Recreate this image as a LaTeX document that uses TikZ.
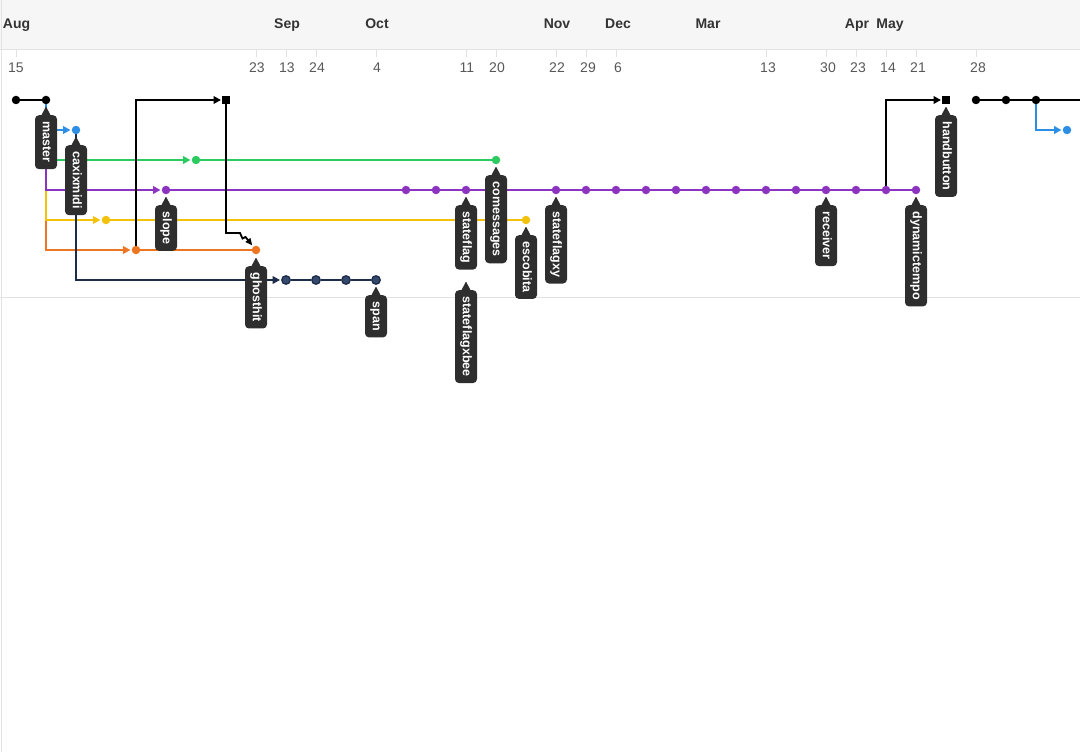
\documentclass[tikz,border=0pt]{standalone}
\usepackage{fontspec}
\setmainfont{Liberation Sans}
\usetikzlibrary{arrows.meta}
\definecolor{cblue}{HTML}{2D8FE3}
\definecolor{cgreen}{HTML}{2BCB62}
\definecolor{cpurple}{HTML}{8C33C0}
\definecolor{cyellow}{HTML}{F2C20C}
\definecolor{corange}{HTML}{EE7623}
\definecolor{cnavy}{HTML}{1C2D4A}
\definecolor{cnavyfill}{HTML}{34496C}
\definecolor{ctag}{HTML}{2E2E2E}
\definecolor{chead}{HTML}{F6F6F6}
\definecolor{csep}{HTML}{E2E2E2}
\definecolor{cmonth}{HTML}{333333}
\definecolor{cday}{HTML}{585858}
\pgfdeclarelayer{back}
\pgfdeclarelayer{lines}
\pgfsetlayers{back,lines,main}
\tikzset{
  cdot/.style={circle, inner sep=0pt, minimum size=8.5pt, fill=#1},
  sdot/.style={rectangle, inner sep=0pt, minimum size=7.5pt, fill=#1},
  ndot/.style={circle, inner sep=0pt, minimum size=8.5pt, fill=cnavyfill, draw=cnavy, line width=1.3pt},
  br/.style={draw=#1, line width=2pt},
  brarr/.style={draw=#1, line width=2pt, -{Triangle[length=7.5pt,width=7.5pt]}, shorten >=1pt},
  tagbox/.style={rectangle, rounded corners=4pt, fill=ctag, text=white,
    font=\bfseries\fontsize{12.5}{12.5}\selectfont, rotate=-90, anchor=west,
    inner xsep=6.5pt, inner ysep=0pt, minimum height=22pt, text height=9pt, text depth=2.5pt},
  month/.style={anchor=base, text=cmonth, font=\bfseries\fontsize{14}{14}\selectfont, inner sep=0pt},
  day/.style={anchor=base, text=cday, font=\fontsize{14}{14}\selectfont, inner sep=0pt},
  tick/.style={draw=csep, line width=1pt},
}
\newcommand\tagat[4]{%
  \node[tagbox] (#1) at ([yshift=-#4pt]#2) {#3};
  \fill[ctag, rounded corners=0.8pt] ([yshift=8.5pt]#1.west) -- ([xshift=5pt,yshift=-1pt]#1.west) -- ([xshift=-5pt,yshift=-1pt]#1.west) -- cycle;}
\begin{document}
\begin{tikzpicture}[x=1pt,y=-1pt]
\useasboundingbox (0,0) rectangle (1080,752);
\begin{pgfonlayer}{back}
  \fill[chead] (0,0) rectangle (1080,49);
  \draw[csep, line width=1pt] (0,49.5) -- (1080,49.5);
  \draw[csep, line width=1pt] (0,297) -- (1080,297);
  \draw[csep, line width=1pt] (1.5,0) -- (1.5,752);
  \foreach \x in {16,256,286,316,376,466,496,556,586,616,766,826,856,886,916,976}
    \draw[tick] (\x,50) -- (\x,57);
\end{pgfonlayer}
% month labels
\node[month] (mAug) at (16.5,29) {Aug};
\node[month] (mSep) at (287,29) {Sep};
\node[month] (mOct) at (377,29) {Oct};
\node[month] (mNov) at (557,29) {Nov};
\node[month] (mDec) at (618,29) {Dec};
\node[month] (mMar) at (708,29) {Mar};
\node[month] (mApr) at (857,29) {Apr};
\node[month] (mMay) at (890,29) {May};
% day labels
\foreach \x/\d [count=\i] in {16/15,257/23,287/13,317/24,377/4,467/11,497/20,557/22,588/29,618/6,768/13,828/30,858/23,888/14,918/21,978/28}
  \node[day] (d\i) at (\x,73) {\d};
% commits
\node[cdot=black] (b0) at (16,100) {};
\node[cdot=black] (m1) at (46,100) {};
\node[sdot=black] (b2) at (226,100) {};
\node[sdot=black] (b3) at (946,100) {};
\node[cdot=black] (r1) at (976,100) {};
\node[cdot=black] (r2) at (1006,100) {};
\node[cdot=black] (r3) at (1036,100) {};
\coordinate (rend) at (1080,100);
\node[cdot=cblue] (bl1) at (76,130) {};
\node[cdot=cblue] (bl2) at (1067,130) {};
\node[cdot=cgreen] (g1) at (196,160) {};
\node[cdot=cgreen] (g2) at (496,160) {};
\foreach \x [count=\i] in {166,406,436,466,556,586,616,646,676,706,736,766,796,826,856,886,916}
  \node[cdot=cpurple] (p\i) at (\x,190) {};
\node[cdot=cyellow] (y1) at (106,220) {};
\node[cdot=cyellow] (y2) at (526,220) {};
\node[cdot=corange] (o1) at (136,250) {};
\node[cdot=corange] (o2) at (256,250) {};
\node[ndot] (n1) at (286,280) {};
\node[ndot] (n2) at (316,280) {};
\node[ndot] (n3) at (346,280) {};
\node[ndot] (n4) at (376,280) {};
% connectors
\begin{pgfonlayer}{lines}
  \draw[brarr=corange] (m1) |- (o1);
  \draw[brarr=cyellow] (m1) |- (y1);
  \draw[brarr=cpurple] (m1) |- (p1);
  \draw[brarr=cgreen] (m1) |- (g1);
  \draw[brarr=cblue] (m1) |- (bl1);
  \draw[br=corange] (o1) -- (o2);
  \draw[br=cyellow] (y1) -- (y2);
  \draw[br=cgreen] (g1) -- (g2);
  \draw[br=cpurple] (p1) -- (p2) -- (p3) -- (p4) -- (p5) -- (p6) -- (p7) -- (p8) -- (p9) -- (p10) -- (p11) -- (p12) -- (p13) -- (p14) -- (p15) -- (p16) -- (p17);
  \draw[brarr=cnavy] (bl1) |- (n1);
  \draw[br=cnavy] (n1) -- (n2) -- (n3) -- (n4);
  \draw[br=black] (b0) -- (m1);
  \draw[brarr=black] (o1) |- (b2);
  \draw[br=black, line width=1.8pt, -{Triangle[length=7pt,width=6pt]}, shorten >=1.5pt]
     (b2) -- (226,233) -- (240,233) -- (242.5,238.5) -- (245.5,237) -- (o2);
  \draw[brarr=black] (p16) |- (b3);
  \draw[br=black] (r1) -- (r2) -- (r3) -- (rend);
  \draw[brarr=cblue] (r3) |- (bl2);
\end{pgfonlayer}
% labels
\tagat{tMaster}{m1}{master}{15}
\tagat{tCaxix}{bl1}{caxixmidi}{15}
\tagat{tSlope}{p1}{slope}{15}
\tagat{tGhost}{o2}{ghosthit}{16}
\tagat{tSpan}{n4}{span}{15}
\tagat{tStateflag}{p4}{stateflag}{15}
\tagat{tXbee}{p4}{stateflagxbee}{100}
\tagat{tComess}{g2}{comessages}{15}
\tagat{tEscob}{y2}{escobita}{15}
\tagat{tXy}{p5}{stateflagxy}{15}
\tagat{tRecv}{p14}{receiver}{15}
\tagat{tDyn}{p17}{dynamictempo}{15}
\tagat{tHand}{b3}{handbutton}{15}
\end{tikzpicture}
\end{document}
